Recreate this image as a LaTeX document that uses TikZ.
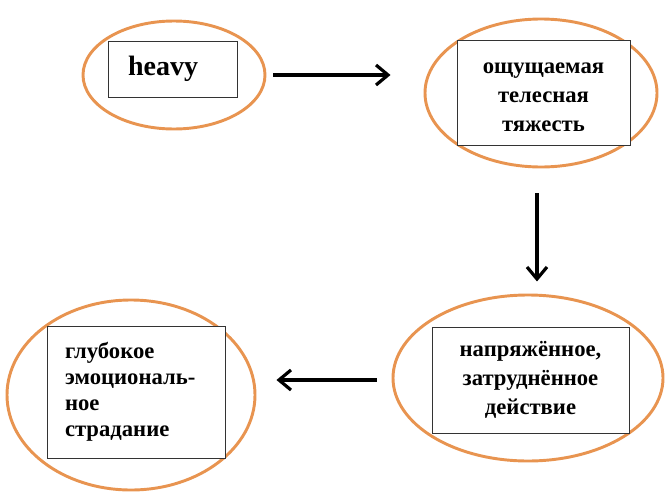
\documentclass[tikz,border=0pt]{standalone}
\usepackage{fontspec}
\setmainfont{Liberation Serif}[BoldFont={Liberation Serif Bold}]
\usepackage{tikz}
\usetikzlibrary{shapes.geometric,arrows.meta,calc}
\definecolor{ringorange}{RGB}{232,148,80}

\begin{document}
\begin{tikzpicture}[x=0.75pt,y=-0.75pt,
    ring/.style={ellipse, draw=ringorange, line width=2.2pt, inner sep=0pt},
    wordbox/.style={rectangle, draw=black!80, line width=0.6pt, fill=white,
        font=\bfseries\fontsize{17}{21.5}\selectfont},
    flow/.style={line width=2.4pt, -{Straight Barb[length=9pt,width=15pt,line width=2.4pt]}}]
    \useasboundingbox (0,0) rectangle (666,496);

    % Ellipses
    \node[ring, minimum width=136.5pt, minimum height=81pt] (e1) at (174,75) {};
    \node[ring, minimum width=174pt, minimum height=111pt] (e2) at (541,93) {};
    \node[ring, minimum width=202.5pt, minimum height=124.5pt] (e3) at (528,378) {};
    \node[ring, minimum width=186pt, minimum height=142.5pt] (e4) at (131,395) {};

    % Boxes with text
    \node[wordbox, minimum width=96.75pt, minimum height=42pt, text width=66.75pt,
          inner xsep=15pt, align=left, font=\bfseries\fontsize{21}{25}\selectfont]
          (b1) at (172.5,69) {heavy};
    \node[wordbox, minimum width=129.75pt, minimum height=78.75pt, align=center]
          (b2) at (543.5,92.5) {\rule{0pt}{15pt}ощущаемая\\телесная\\тяжесть};
    \node[wordbox, minimum width=147.75pt, minimum height=79.5pt, align=center]
          (b3) at (530.5,380) {напряжённое,\\затруднённое\\действие};
    \node[wordbox, minimum width=133.5pt, minimum height=99pt, text width=106.5pt,
          inner xsep=13.5pt, align=left, font=\bfseries\fontsize{17}{19.5}\selectfont]
          (b4) at (136,392) {глубокое\\эмоциональ-\\ное\\страдание};

    % Arrows
    \draw[flow] ($(e1.east)+(7,0)$) -- ($(e1.east -| e2.west)+(-33,0)$);
    \draw[flow] ($(e2.south)+(-4,25)$) -- ($(e2.south)+(-4,113)$);
    \draw[flow] ($(e3.west)+(-15,2)$) -- ($(e3.west -| e4.east)+(20,2)$);
\end{tikzpicture}
\end{document}
